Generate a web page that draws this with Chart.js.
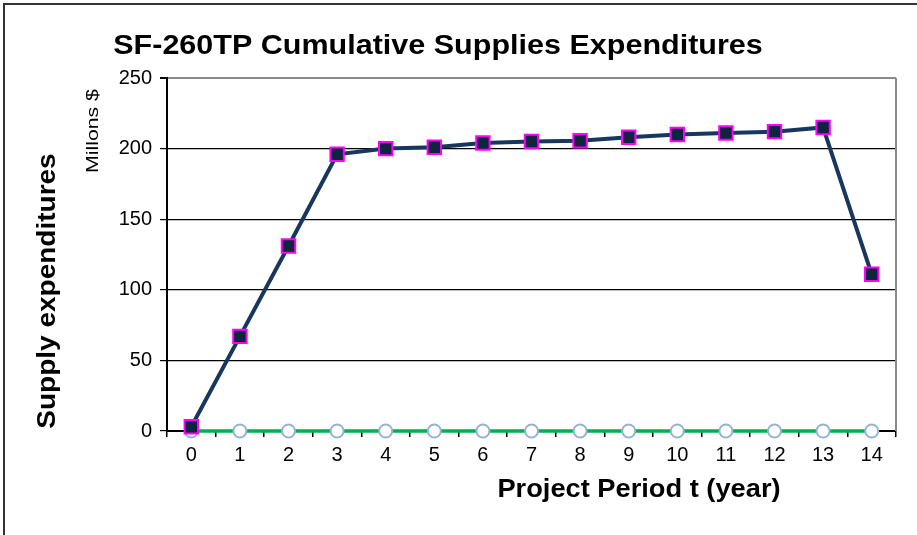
<!DOCTYPE html>
<html>
<head>
<meta charset="utf-8">
<script src="https://cdn.jsdelivr.net/npm/chart.js@4"></script>
<style>
  html, body { margin: 0; padding: 0; background: #fff; }
  #wrap { position: absolute; left: 0; top: 0; width: 917px; height: 535px; }
  #frame { position: absolute; left: 3px; top: 3px; width: 930px; height: 560px; border-left: 2px solid #333; border-top: 2px solid #333; pointer-events: none; }
  canvas { position: absolute; left: 0; top: 0; }
</style>
</head>
<body>
<div id="wrap">
  <canvas id="c" width="917" height="535"></canvas>
  <div id="frame"></div>
</div>
<script>
const chartTitle = "SF-260TP Cumulative Supplies Expenditures";
const xAxisTitle = "Project Period t (year)";
const yAxisTitle = "Supply expenditures";
const yUnitLabel = "Millons $";
const periods = ["0","1","2","3","4","5","6","7","8","9","10","11","12","13","14"];
const cumulativeSupplies = [3, 67, 131, 196, 200, 201, 204, 205, 205.5, 208, 210, 211, 212, 215, 111];
const baselineSeries = [0, 0, 0, 0, 0, 0, 0, 0, 0, 0, 0, 0, 0, 0, 0];
const yTicks = [0, 50, 100, 150, 200, 250];

const FONT = '"Liberation Sans", Arial, sans-serif';

function stretchedText(ctx, text, x, y, font, rot, stretch) {
  ctx.save();
  ctx.translate(x, y);
  if (rot) ctx.rotate(rot);
  ctx.scale(stretch, 1);
  ctx.font = font;
  ctx.textAlign = 'center';
  ctx.textBaseline = 'middle';
  ctx.fillText(text, 0, 0);
  ctx.restore();
}

const textPlugin = {
  id: 'textPlugin',
  afterDraw(chart) {
    const ctx = chart.ctx;
    const a = chart.chartArea;
    ctx.save();
    ctx.strokeStyle = '#8c8c8c';
    ctx.lineWidth = 2;
    ctx.beginPath();
    ctx.moveTo(a.right, a.top);
    ctx.lineTo(a.right, a.bottom);
    ctx.stroke();
    ctx.fillStyle = '#000';
    stretchedText(ctx, chartTitle, 438, 46, 'bold 28px ' + FONT, 0, 1.09);
    stretchedText(ctx, xAxisTitle, 639, 490, 'bold 25px ' + FONT, 0, 1.09);
    stretchedText(ctx, yAxisTitle, 48, 291, 'bold 25px ' + FONT, -Math.PI / 2, 1.12);
    stretchedText(ctx, yUnitLabel, 93, 131, '17px ' + FONT, -Math.PI / 2, 1.25);
    ctx.restore();
  }
};

new Chart(document.getElementById('c'), {
  type: 'line',
  data: {
    labels: periods,
    datasets: [
      {
        label: 'Cumulative supplies',
        data: cumulativeSupplies,
        borderColor: '#17375e',
        borderWidth: 4,
        pointStyle: 'rect',
        pointRadius: 9.5,
        pointHoverRadius: 9.5,
        pointBackgroundColor: '#0f243e',
        pointBorderColor: '#ff00ff',
        pointBorderWidth: 2,
        tension: 0,
        fill: false
      },
      {
        label: 'Baseline',
        data: baselineSeries,
        borderColor: '#00b050',
        borderWidth: 3.5,
        pointStyle: 'circle',
        pointRadius: 6.5,
        pointHoverRadius: 6.5,
        pointBackgroundColor: '#ffffff',
        pointBorderColor: '#95b3d7',
        pointBorderWidth: 2,
        tension: 0,
        fill: false
      }
    ]
  },
  options: {
    responsive: false,
    animation: false,
    events: [],
    clip: false,
    layout: { padding: { left: 0, right: 21, top: 78, bottom: 0 } },
    plugins: { legend: { display: false }, title: { display: false }, tooltip: { enabled: false } },
    scales: {
      x: {
        type: 'category',
        offset: true,
        afterFit(s) { s.height = 104; },
        grid: {
          offset: true,
          drawOnChartArea: false,
          drawTicks: true,
          tickLength: 6,
          color: '#000',
          lineWidth: 1.5
        },
        border: { display: true, color: '#000', width: 2 },
        ticks: {
          color: '#000',
          padding: 6,
          font: { family: FONT, size: 20 },
          maxRotation: 0,
          autoSkip: false
        }
      },
      y: {
        min: 0,
        max: 250,
        afterFit(s) { s.width = 167; },
        afterBuildTicks(s) { s.ticks = yTicks.map(v => ({ value: v })); },
        grid: {
          color: (c) => (c.tick && c.tick.value === 250) ? '#8c8c8c' : '#000',
          lineWidth: (c) => (c.tick && c.tick.value === 250) ? 2 : 1.2,
          tickLength: 7,
          tickColor: '#000'
        },
        border: { display: true, color: '#000', width: 2 },
        ticks: {
          color: '#000',
          padding: 8,
          font: { family: FONT, size: 20 }
        }
      }
    }
  },
  plugins: [textPlugin]
});
</script>
</body>
</html>
